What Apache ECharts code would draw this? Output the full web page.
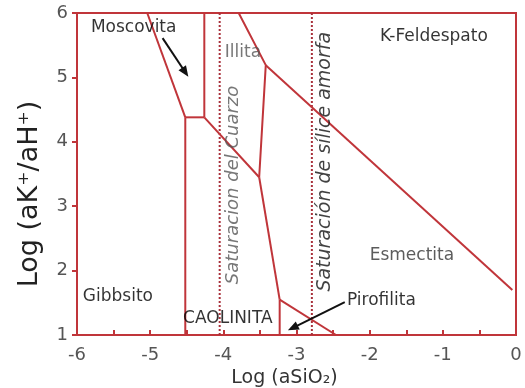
<!DOCTYPE html>
<html><head><meta charset="utf-8">
<script src="https://cdn.jsdelivr.net/npm/echarts@6/dist/echarts.min.js"></script>
<style>html,body{margin:0;padding:0;background:#fff}#c{width:525px;height:388px}</style>
</head><body><div id="c"></div>
<script>
// Phase boundaries, [log aSiO2, log(aK+/aH+)]
const gibbsiteKaolinite = [[-4.52, 1], [-4.52, 4.38]];
const gibbsiteMuscovite = [[-5.04, 6], [-4.52, 4.38]];
const muscoviteKaolinite = [[-4.52, 4.38], [-4.26, 4.38]];
const muscoviteIllite = [[-4.26, 4.38], [-4.26, 6]];
const illiteKaolinite = [[-4.26, 4.38], [-3.51, 3.45]];
const smectiteKaolinite = [[-3.51, 3.45], [-3.23, 1.55]];
const kaolinitePyrophyllite = [[-3.23, 1.55], [-3.23, 1]];
const pyrophylliteSmectite = [[-3.23, 1.55], [-2.46, 1]];
const illiteSmectite = [[-3.79, 6], [-3.42, 5.19], [-3.51, 3.45]];
const feldsparSmectite = [[-3.42, 5.19], [-0.05, 1.7]];
const quartzSaturation = -4.05;
const amorphousSilicaSaturation = -2.79;
const xTicks = [-6, -5, -4, -3, -2, -1, 0];
const yTicks = [1, 2, 3, 4, 5, 6];
// Annotations
const labelNames = ['Moscovita', 'Illita', 'K-Feldespato', 'Esmectita', 'Gibbsito', 'CAOLINITA', 'Pirofilita'];
const labelPos = [[-5.81, 5.78], [-3.98, 5.39], [-1.86, 5.63], [-2.0, 2.24], [-5.92, 1.59], [-4.55, 1.26], [-2.31, 1.54]];
const labelColors = ['#000', '#555', '#000', '#333', '#000', '#000', '#000'];
const rotNames = ['Saturacion del Cuarzo', 'Saturación de sílice amorfa'];
const rotPos = [[-3.86, 3.33], [-2.61, 3.69]];
const arrowMoscovita = [[-4.83, 5.61], [-4.52, 5.08]];
const arrowPirofilita = [[-2.34, 1.51], [-3.05, 1.11]];

const RED = '#c0353a';
const FONT = 'DejaVu Sans';
function seg(d) {
  return {type: 'line', data: d, symbol: 'none', lineStyle: {color: RED, width: 2}, silent: true, z: 3};
}
const series = [gibbsiteKaolinite, gibbsiteMuscovite, muscoviteKaolinite, muscoviteIllite, illiteKaolinite,
  smectiteKaolinite, kaolinitePyrophyllite, pyrophylliteSmectite, illiteSmectite, feldsparSmectite].map(seg);
[quartzSaturation, amorphousSilicaSaturation].forEach(x => {
  series.push({type: 'line', data: [[x, 1], [x, 6]], symbol: 'none',
    lineStyle: {color: '#a8303a', width: 2, type: [2, 2]}, z: 2});
});
series.push({type: 'line', data: [], z: 5,
  markLine: {silent: true, symbol: ['none', 'triangle'], symbolSize: [9, 11],
    lineStyle: {color: '#111', width: 2, type: 'solid'}, label: {show: false},
    data: [arrowMoscovita, arrowPirofilita].map(a => [{coord: a[0]}, {coord: a[1]}])}});
series.push({type: 'scatter', symbolSize: 0, z: 6,
  data: labelNames.map((n, i) => ({value: labelPos[i], name: n,
    label: {show: true, position: 'inside', align: 'left', verticalAlign: 'middle', formatter: n,
      color: labelColors[i], fontSize: 17, fontFamily: FONT}}))});
series.push({type: 'scatter', symbolSize: 0, z: 6,
  data: rotNames.map((n, i) => ({value: rotPos[i], name: n,
    label: {show: true, position: 'inside', rotate: 90, align: 'center', verticalAlign: 'middle', formatter: n,
      color: i === 0 ? '#555' : '#111', fontSize: i === 0 ? 18 : 19, fontStyle: 'italic', fontFamily: FONT}}))});

const chart = echarts.init(document.getElementById('c'));
chart.setOption({
  animation: false,
  grid: {left: 77, right: 9, top: 13, bottom: 53, outerBoundsMode: 'none', containLabel: false,
    show: true, borderColor: RED, borderWidth: 2, backgroundColor: 'transparent'},
  xAxis: {type: 'value', min: -6, max: 0, interval: 0.5,
    name: 'Log (aSiO₂)', nameLocation: 'middle', nameGap: 33,
    nameTextStyle: {fontSize: 19, color: '#333', fontFamily: FONT, padding: [0, 24, 0, 0]},
    axisLine: {onZero: false, lineStyle: {color: RED, width: 2}},
    axisTick: {inside: true, length: 5, lineStyle: {color: RED, width: 2}},
    axisLabel: {color: '#555', fontSize: 18, fontFamily: FONT, margin: 11,
      formatter: v => xTicks.indexOf(v) >= 0 ? String(v) : ''},
    splitLine: {show: false}},
  yAxis: {type: 'value', min: 1, max: 6, interval: 1,
    name: 'Log (aK⁺/aH⁺)', nameLocation: 'middle', nameGap: 34,
    nameTextStyle: {fontSize: 27, color: '#222', fontFamily: FONT, padding: [0, 40, 0, 0]},
    axisLine: {onZero: false, lineStyle: {color: RED, width: 2}},
    axisTick: {length: 5, lineStyle: {color: RED, width: 2}},
    axisLabel: {color: '#555', fontSize: 18, fontFamily: FONT, margin: 9,
      formatter: v => yTicks.indexOf(v) >= 0 ? String(v) : ''},
    splitLine: {show: false}},
  series: series
});
</script></body></html>
